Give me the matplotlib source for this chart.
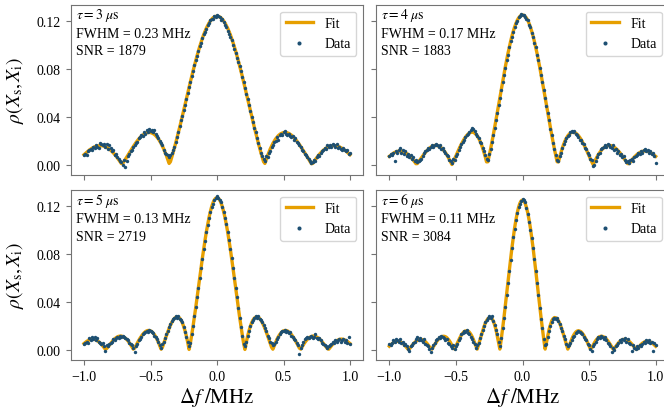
import numpy as np
import matplotlib
matplotlib.use("Agg")
import matplotlib.pyplot as plt

plt.rcParams['font.family'] = ['Liberation Serif', 'DejaVu Serif']
plt.rcParams['mathtext.fontset'] = 'stix'

# ---------------- data ----------------
taus = [3, 4, 5, 6]
fwhm = [0.23, 0.17, 0.13, 0.11]
snr = [1879, 1883, 2719, 3084]

df_data = np.linspace(-1.0, 1.0, 201)      # detuning grid of measured points (MHz)
df_half = np.linspace(0.0, 1.0, 101)       # |detuning| grid of the symmetric fit (MHz)

# fitted profile vs |Δf| (symmetric fit)
fit1 = [0.1240,0.1238,0.1234,0.1226,0.1215,0.1200,0.1183,0.1162,0.1140,0.1114,
        0.1086,0.1055,0.1022,0.0986,0.0949,0.0910,0.0869,0.0826,0.0783,0.0738,
        0.0692,0.0645,0.0598,0.0551,0.0503,0.0455,0.0408,0.0361,0.0315,0.0270,
        0.0226,0.0183,0.0141,0.0101,0.0062,0.0025,0.0010,0.0042,0.0074,0.0103,
        0.0130,0.0154,0.0177,0.0196,0.0214,0.0228,0.0241,0.0251,0.0259,0.0264,
        0.0268,0.0269,0.0268,0.0265,0.0261,0.0254,0.0246,0.0236,0.0225,0.0212,
        0.0198,0.0183,0.0167,0.0150,0.0133,0.0116,0.0098,0.0080,0.0061,0.0043,
        0.0025,0.0008,0.0010,0.0027,0.0043,0.0058,0.0073,0.0086,0.0099,0.0110,
        0.0121,0.0130,0.0138,0.0145,0.0150,0.0154,0.0157,0.0158,0.0159,0.0158,
        0.0156,0.0153,0.0149,0.0143,0.0137,0.0130,0.0122,0.0113,0.0103,0.0093,0.0083]
fit2 = [0.1250,0.1247,0.1238,0.1224,0.1204,0.1178,0.1147,0.1111,0.1071,0.1026,
        0.0977,0.0925,0.0869,0.0811,0.0750,0.0688,0.0624,0.0560,0.0495,0.0431,
        0.0367,0.0305,0.0244,0.0185,0.0128,0.0075,0.0024,0.0023,0.0067,0.0106,
        0.0142,0.0173,0.0200,0.0222,0.0241,0.0254,0.0264,0.0270,0.0272,0.0269,
        0.0263,0.0254,0.0242,0.0227,0.0210,0.0190,0.0169,0.0147,0.0123,0.0099,
        0.0073,0.0048,0.0024,0.0001,0.0023,0.0045,0.0066,0.0085,0.0102,0.0117,
        0.0130,0.0141,0.0149,0.0155,0.0159,0.0160,0.0160,0.0157,0.0152,0.0145,
        0.0136,0.0126,0.0114,0.0101,0.0086,0.0071,0.0056,0.0040,0.0024,0.0009,
        0.0008,0.0023,0.0038,0.0051,0.0064,0.0075,0.0085,0.0094,0.0101,0.0107,
        0.0111,0.0113,0.0114,0.0113,0.0111,0.0107,0.0102,0.0095,0.0087,0.0078,0.0069]
fit3 = [0.1270,0.1265,0.1251,0.1227,0.1195,0.1153,0.1104,0.1047,0.0985,0.0916,
        0.0843,0.0765,0.0685,0.0603,0.0519,0.0436,0.0353,0.0274,0.0198,0.0126,
        0.0057,0.0004,0.0063,0.0113,0.0158,0.0194,0.0225,0.0248,0.0264,0.0273,
        0.0276,0.0272,0.0263,0.0248,0.0229,0.0206,0.0180,0.0151,0.0120,0.0088,
        0.0056,0.0023,0.0006,0.0033,0.0062,0.0087,0.0108,0.0126,0.0141,0.0152,
        0.0159,0.0162,0.0162,0.0158,0.0151,0.0141,0.0128,0.0112,0.0095,0.0076,
        0.0056,0.0035,0.0014,0.0007,0.0026,0.0044,0.0061,0.0076,0.0089,0.0099,
        0.0107,0.0112,0.0116,0.0115,0.0113,0.0108,0.0101,0.0092,0.0081,0.0068,
        0.0054,0.0040,0.0025,0.0011,0.0006,0.0020,0.0035,0.0047,0.0059,0.0069,
        0.0077,0.0083,0.0088,0.0090,0.0090,0.0088,0.0084,0.0078,0.0071,0.0062,0.0053]
fit4 = [0.1250,0.1243,0.1222,0.1187,0.1140,0.1080,0.1012,0.0932,0.0846,0.0753,
        0.0656,0.0557,0.0457,0.0358,0.0262,0.0171,0.0085,0.0007,0.0062,0.0120,
        0.0173,0.0211,0.0243,0.0261,0.0270,0.0268,0.0261,0.0243,0.0221,0.0191,
        0.0158,0.0121,0.0084,0.0044,0.0007,0.0032,0.0061,0.0090,0.0115,0.0134,
        0.0149,0.0157,0.0160,0.0157,0.0151,0.0138,0.0122,0.0102,0.0081,0.0057,
        0.0032,0.0008,0.0017,0.0039,0.0060,0.0078,0.0092,0.0104,0.0111,0.0114,
        0.0113,0.0108,0.0101,0.0090,0.0077,0.0061,0.0044,0.0026,0.0007,0.0014,
        0.0028,0.0044,0.0058,0.0070,0.0079,0.0085,0.0088,0.0088,0.0086,0.0080,
        0.0072,0.0062,0.0050,0.0036,0.0022,0.0008,0.0007,0.0020,0.0034,0.0046,
        0.0056,0.0063,0.0069,0.0072,0.0072,0.0070,0.0066,0.0060,0.0052,0.0042,0.0031]

# measured correlation, Δf = -1.00 ... 1.00 MHz in 0.01 steps
data1 = [0.008,0.009,0.008,0.011,0.012,0.013,0.012,0.015,0.014,0.016,
         0.015,0.014,0.018,0.017,0.016,0.017,0.015,0.017,0.013,0.016,
         0.014,0.011,0.012,0.008,0.009,0.006,0.005,0.003,0.002,0.000,
         0.004,-0.002,0.003,0.007,0.009,0.011,0.012,0.015,0.016,0.018,
         0.019,0.022,0.023,0.025,0.024,0.027,0.026,0.029,0.027,0.030,
         0.028,0.029,0.027,0.029,0.026,0.024,0.022,0.020,0.018,0.016,
         0.012,0.010,0.009,0.008,0.006,0.008,0.010,0.012,0.015,0.019,
         0.023,0.027,0.032,0.037,0.041,0.046,0.050,0.055,0.060,0.065,
         0.069,0.074,0.078,0.083,0.087,0.091,0.095,0.099,0.102,0.106,
         0.109,0.111,0.113,0.117,0.118,0.121,0.122,0.122,0.124,0.123,
         0.125,0.124,0.123,0.121,0.122,0.119,0.117,0.115,0.112,0.109,
         0.107,0.104,0.100,0.097,0.093,0.089,0.086,0.082,0.078,0.073,
         0.069,0.064,0.059,0.055,0.050,0.045,0.040,0.036,0.031,0.027,
         0.022,0.018,0.014,0.010,0.007,0.005,0.003,0.007,0.006,0.010,
         0.011,0.015,0.016,0.019,0.020,0.023,0.021,0.025,0.026,0.025,
         0.027,0.028,0.026,0.025,0.026,0.024,0.023,0.024,0.021,0.022,
         0.019,0.018,0.016,0.015,0.012,0.011,0.009,0.008,0.006,0.005,
         0.003,0.001,0.002,0.004,0.003,0.006,0.008,0.007,0.010,0.011,
         0.012,0.014,0.013,0.016,0.015,0.016,0.015,0.017,0.016,0.015,
         0.017,0.014,0.015,0.013,0.012,0.014,0.012,0.011,0.012,0.009,0.010]
data2 = [0.007,0.009,0.008,0.010,0.003,0.011,0.010,0.012,0.014,0.010,
         0.012,0.009,0.011,0.007,0.009,0.006,0.008,0.005,0.006,0.003,
         0.004,0.002,0.003,0.004,0.005,0.007,0.010,0.011,0.012,0.014,
         0.013,0.015,0.016,0.015,0.016,0.017,0.016,0.015,0.016,0.013,
         0.014,0.011,0.010,0.008,0.007,0.004,0.003,0.001,0.005,0.004,
         0.007,0.009,0.012,0.015,0.017,0.019,0.021,0.023,0.025,0.026,
         0.027,0.029,0.031,0.030,0.028,0.026,0.024,0.022,0.019,0.018,
         0.014,0.011,0.008,0.005,0.004,0.009,0.013,0.019,0.025,0.031,
         0.037,0.043,0.050,0.056,0.062,0.069,0.075,0.081,0.087,0.092,
         0.098,0.103,0.107,0.111,0.115,0.118,0.120,0.123,0.124,0.126,
         0.125,0.125,0.123,0.122,0.121,0.117,0.115,0.110,0.107,0.102,
         0.098,0.092,0.087,0.081,0.075,0.069,0.062,0.056,0.049,0.043,
         0.037,0.030,0.025,0.018,0.013,0.008,0.004,0.003,0.007,0.010,
         0.014,0.017,0.020,0.022,0.024,0.025,0.027,0.028,0.027,0.028,
         0.026,0.025,0.023,0.021,0.021,0.018,0.017,0.014,0.013,0.010,
         0.008,0.005,0.004,-0.001,0.000,0.003,0.006,0.009,0.010,0.013,
         0.014,0.015,0.016,0.015,0.017,0.016,0.015,0.014,0.016,0.012,
         0.013,0.010,0.011,0.008,0.009,0.006,0.007,0.004,0.002,0.003,
         0.001,0.004,0.005,0.003,0.006,0.007,0.008,0.010,0.009,0.011,
         0.010,0.012,0.013,0.011,0.012,0.010,0.011,0.009,0.010,0.007,0.001]
data3 = [0.005,0.006,0.007,0.006,0.010,0.008,0.011,0.009,0.011,0.008,
         0.010,0.007,0.006,0.005,0.006,0.003,-0.001,0.004,0.003,0.005,
         0.006,0.007,0.009,0.008,0.010,0.011,0.010,0.012,0.011,0.012,
         0.011,0.010,0.009,0.008,0.006,0.005,0.004,0.002,-0.002,0.003,
         0.005,0.008,0.009,0.011,0.013,0.014,0.015,0.016,0.015,0.017,
         0.016,0.015,0.014,0.012,0.011,0.009,0.007,0.004,0.002,0.005,
         0.007,0.010,0.013,0.016,0.019,0.022,0.024,0.026,0.027,0.028,
         0.027,0.028,0.026,0.025,0.023,0.019,0.015,0.011,0.007,0.003,
         0.006,0.013,0.020,0.028,0.036,0.044,0.052,0.060,0.068,0.076,
         0.084,0.091,0.098,0.104,0.110,0.115,0.119,0.122,0.125,0.127,
         0.128,0.127,0.125,0.123,0.119,0.115,0.110,0.105,0.098,0.092,
         0.084,0.077,0.068,0.060,0.052,0.044,0.035,0.027,0.019,0.012,
         0.005,0.003,0.007,0.012,0.016,0.020,0.023,0.025,0.027,0.028,
         0.027,0.028,0.026,0.025,0.023,0.021,0.018,0.016,0.012,0.010,
         0.007,0.006,0.004,0.005,0.007,0.009,0.011,0.013,0.015,0.016,
         0.016,0.017,0.015,0.016,0.014,0.015,0.012,0.011,0.009,0.008,
         0.006,0.004,-0.003,0.002,0.004,0.007,0.009,0.010,0.011,0.010,
         0.011,0.012,0.010,0.011,0.013,0.010,0.009,0.010,0.008,0.006,
         0.005,0.004,0.003,0.002,0.003,0.004,0.005,0.007,0.006,0.008,
         0.007,0.008,0.009,0.007,0.008,0.009,0.007,0.008,0.006,0.011,0.005]
data4 = [0.005,0.004,0.006,0.008,0.007,0.009,0.008,0.007,0.009,0.006,
         0.007,0.004,0.005,0.003,0.001,-0.001,0.003,0.004,0.006,0.007,
         0.009,0.011,0.008,0.010,0.008,0.007,0.009,0.005,0.004,0.003,
         0.001,-0.002,0.002,0.004,0.006,0.008,0.009,0.011,0.010,0.012,
         0.011,0.010,0.008,0.009,0.006,0.005,0.003,0.002,0.004,0.001,
         0.003,0.005,0.008,0.010,0.013,0.014,0.016,0.015,0.017,0.014,
         0.013,0.011,0.009,0.007,0.005,0.002,0.004,0.006,0.010,0.013,
         0.017,0.020,0.023,0.025,0.027,0.028,0.027,0.028,0.024,0.021,
         0.017,0.013,0.007,0.003,0.010,0.018,0.027,0.036,0.046,0.056,
         0.066,0.075,0.085,0.094,0.101,0.108,0.114,0.119,0.122,0.124,
         0.126,0.125,0.123,0.118,0.113,0.107,0.100,0.093,0.085,0.076,
         0.066,0.056,0.046,0.035,0.026,0.018,0.009,0.004,0.005,0.011,
         0.016,0.020,0.023,0.026,0.027,0.026,0.027,0.024,0.022,0.018,
         0.016,0.012,0.009,0.005,0.003,0.004,0.006,0.008,0.011,0.012,
         0.014,0.015,0.016,0.015,0.014,0.013,0.011,0.009,0.008,0.005,
         0.004,0.001,-0.001,0.003,0.005,0.007,0.009,0.011,0.010,0.012,
         0.011,0.009,0.011,0.008,0.006,0.005,0.003,-0.002,0.002,0.000,
         0.003,0.004,0.006,0.008,0.007,0.009,0.008,0.010,0.007,0.009,
         0.006,0.005,-0.001,0.004,0.002,0.001,0.003,0.002,0.004,0.003,
         0.005,0.007,0.006,0.008,0.007,0.008,0.006,0.007,-0.001,0.006,0.004]

fits = [fit1, fit2, fit3, fit4]
datas = [data1, data2, data3, data4]

FIT_COLOR = '#E69F00'
DATA_COLOR = '#1d4f72'
SPINE = '0.45'

fig = plt.figure(figsize=(6.64, 4.14), dpi=100)
W, H = 664.0, 414.0
boxes = [(70.7, 5.7, 363.3, 175.7), (376.0, 5.7, 669.0, 175.7),
         (70.7, 190.7, 363.3, 361.0), (376.0, 190.7, 669.0, 361.0)]
axes = []
for (x0, y0, x1, y1) in boxes:
    axes.append(fig.add_axes([x0 / W, 1 - y1 / H, (x1 - x0) / W, (y1 - y0) / H]))

for i, ax in enumerate(axes):
    fh = np.asarray(df_half)
    fv = np.asarray(fits[i])
    xf = np.concatenate([-fh[::-1], fh[1:]])
    yf = np.concatenate([fv[::-1], fv[1:]])
    ax.plot(xf, yf, color=FIT_COLOR, lw=2.4, label='Fit', zorder=2)
    ax.scatter(df_data, datas[i], s=6, color=DATA_COLOR, lw=0, label='Data', zorder=3)
    ax.set_xlim(-1.1, 1.1)
    ax.set_ylim(-0.0084, 0.1336)
    ax.set_yticks([0.0, 0.04, 0.08, 0.12])
    ax.set_xticks([-1.0, -0.5, 0.0, 0.5, 1.0])
    for sp in ax.spines.values():
        sp.set_color(SPINE)
    ax.tick_params(colors='black', labelsize=10, length=3.5, width=0.8)
    ax.tick_params(axis='both', color=SPINE)
    ax.text(0.018, 0.942, r'$\tau=%d\ \mu\mathrm{s}$' % taus[i], transform=ax.transAxes,
            fontsize=10, va='center', ha='left')
    ax.text(0.018, 0.828, 'FWHM = %.2f MHz' % fwhm[i], transform=ax.transAxes,
            fontsize=10, va='center', ha='left')
    ax.text(0.018, 0.728, 'SNR = %d' % snr[i], transform=ax.transAxes,
            fontsize=10, va='center', ha='left')
    ax.legend(loc='upper right', fontsize=10, scatterpoints=1, markerscale=1.2)
    if i in (0, 1):
        ax.tick_params(labelbottom=False)
    else:
        ax.set_xlabel(r'$\Delta f\;/\mathrm{MHz}$', fontsize=15, labelpad=2)
    if i in (1, 3):
        ax.tick_params(labelleft=False)
    else:
        ax.set_ylabel(r'$\rho(X_\mathrm{s}, X_\mathrm{i})$', fontsize=14)
        ax.yaxis.set_label_coords(-0.153, 0.5)

fig.savefig('out.png', dpi=100)
